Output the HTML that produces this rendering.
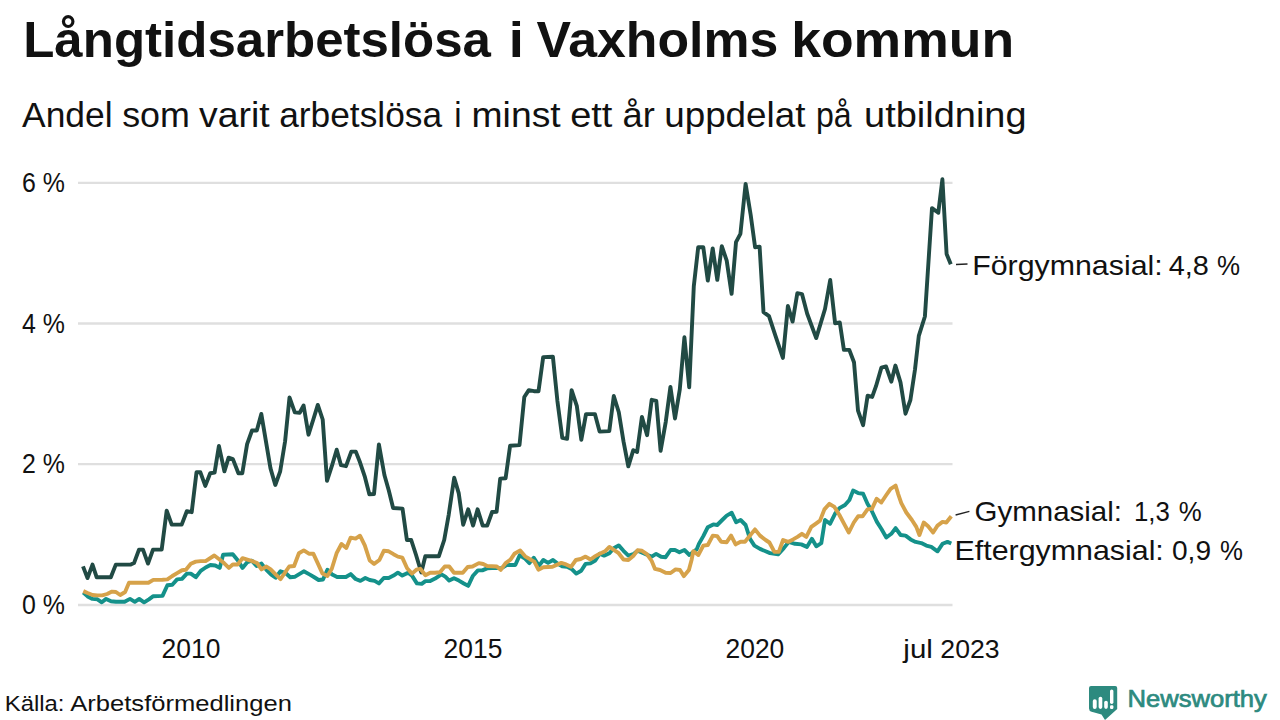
<!DOCTYPE html>
<html><head><meta charset="utf-8">
<style>
html,body{margin:0;padding:0;background:#ffffff;width:1280px;height:720px;overflow:hidden}
svg{display:block}
text{font-family:"Liberation Sans",sans-serif;fill:#111111}
</style></head><body>
<svg width="1280" height="720" viewBox="0 0 1280 720">
<rect width="1280" height="720" fill="#ffffff"/>
<g font-size="49.5" font-weight="bold"><text x="23.21" y="57.0" textLength="467.76" lengthAdjust="spacingAndGlyphs">Långtidsarbetslösa</text><text x="508.7" y="57.0" textLength="15.14" lengthAdjust="spacingAndGlyphs">i</text><text x="536.5" y="57.0" textLength="241.82" lengthAdjust="spacingAndGlyphs">Vaxholms</text><text x="791.16" y="57.0" textLength="222.99" lengthAdjust="spacingAndGlyphs">kommun</text></g>
<g font-size="34.5"><text x="22.0" y="127.2" textLength="90.61" lengthAdjust="spacingAndGlyphs">Andel</text><text x="122.16" y="127.2" textLength="67.71" lengthAdjust="spacingAndGlyphs">som</text><text x="199.0" y="127.2" textLength="70.7" lengthAdjust="spacingAndGlyphs">varit</text><text x="279.18" y="127.2" textLength="162.92" lengthAdjust="spacingAndGlyphs">arbetslösa</text><text x="454.3" y="127.2" textLength="7.29" lengthAdjust="spacingAndGlyphs">i</text><text x="471.54" y="127.2" textLength="89.14" lengthAdjust="spacingAndGlyphs">minst</text><text x="570.2" y="127.2" textLength="42.2" lengthAdjust="spacingAndGlyphs">ett</text><text x="622.55" y="127.2" textLength="32.27" lengthAdjust="spacingAndGlyphs">år</text><text x="664.16" y="127.2" textLength="141.34" lengthAdjust="spacingAndGlyphs">uppdelat</text><text x="815.94" y="127.2" textLength="35.68" lengthAdjust="spacingAndGlyphs">på</text><text x="864.1" y="127.2" textLength="162.47" lengthAdjust="spacingAndGlyphs">utbildning</text></g>
<g stroke="#dfdfdf" stroke-width="2.3">
<line x1="78" y1="182.8" x2="952.5" y2="182.8"/>
<line x1="78" y1="323.5" x2="952.5" y2="323.5"/>
<line x1="78" y1="464.2" x2="952.5" y2="464.2"/>
<line x1="78" y1="605" x2="952.5" y2="605"/>
</g>
<g font-size="27" text-anchor="end">
<text id="y6" x="64.9" y="192.0" textLength="42.9" lengthAdjust="spacingAndGlyphs">6 %</text>
<text id="y4" x="64.9" y="332.7" textLength="42.9" lengthAdjust="spacingAndGlyphs">4 %</text>
<text id="y2" x="64.9" y="473.4" textLength="42.9" lengthAdjust="spacingAndGlyphs">2 %</text>
<text id="y0" x="64.9" y="614.2" textLength="42.9" lengthAdjust="spacingAndGlyphs">0 %</text>
</g>
<g font-size="27" text-anchor="middle">
<text id="x2010" x="191.0" y="658" textLength="58.8" lengthAdjust="spacingAndGlyphs">2010</text>
<text id="x2015" x="473.0" y="658" textLength="58.8" lengthAdjust="spacingAndGlyphs">2015</text>
<text id="x2020" x="754.9000000000001" y="658" textLength="58.8" lengthAdjust="spacingAndGlyphs">2020</text>
<g font-size="26"><text x="903.33" y="658" textLength="29.52" lengthAdjust="spacingAndGlyphs" text-anchor="start">jul</text><text x="940.38" y="658" textLength="59.19" lengthAdjust="spacingAndGlyphs" text-anchor="start">2023</text></g>
</g>
<g fill="none" stroke-linejoin="round" stroke-linecap="butt">
<polyline stroke="#14918a" stroke-width="3.9" points="83.3,592.5 87.6,596.4 92.5,598.9 97.4,599.3 101.8,602.3 106.1,598.9 111.0,601.3 115.9,601.8 124.6,601.8 130.0,598.9 134.8,601.8 139.2,598.9 144.1,602.3 148.9,599.3 153.3,596.2 162.5,595.9 167.4,585.2 172.3,584.7 177.1,579.4 182.0,578.9 186.9,573.6 190.8,573.6 195.8,577.2 200.7,570.9 205.6,567.5 210.4,565.0 215.3,565.5 219.7,567.9 223.1,554.8 232.8,554.3 237.7,560.2 242.5,567.9 247.4,562.1 251.8,560.6 256.6,566.0 261.5,563.6 266.4,569.9 271.2,574.7 275.6,577.7 280.5,571.3 285.3,572.8 290.2,577.2 295.1,576.7 303.8,571.3 309.9,574.6 314.7,577.5 318.6,580.0 323.0,579.5 327.4,569.7 332.2,574.6 337.1,577.0 345.9,577.0 350.7,574.1 355.6,579.0 360.4,580.9 365.3,578.0 369.7,580.0 374.6,580.9 378.9,583.4 383.8,578.0 388.7,578.0 393.5,575.6 397.9,572.7 402.3,575.6 408.1,572.7 412.0,575.6 416.9,583.4 421.7,583.9 425.4,581.1 430.2,581.1 435.1,578.6 441.4,574.3 445.3,576.7 449.2,580.6 454.0,578.2 458.9,580.6 463.8,583.5 468.2,585.9 473.0,575.7 477.9,570.4 482.3,570.4 487.1,568.4 496.8,567.9 501.2,568.4 506.6,565.0 515.3,565.0 519.7,555.3 524.6,558.2 529.4,563.1 533.8,557.7 538.9,565.9 543.3,560.0 548.1,562.9 553.0,560.0 557.9,563.9 562.2,566.3 567.1,566.8 572.0,569.3 576.3,573.6 581.2,570.7 585.6,563.9 590.4,563.4 595.3,560.5 599.7,553.7 604.1,555.6 609.4,553.2 613.8,548.3 618.7,545.4 623.5,550.8 628.4,555.6 633.2,554.2 637.6,550.8 646.9,554.7 651.7,556.6 656.1,553.9 661.1,556.7 665.6,557.2 670.6,550.0 675.0,550.0 679.4,552.2 684.4,550.0 689.4,555.0 696.7,549.4 698.9,543.9 703.3,536.1 707.8,527.2 713.3,524.4 717.2,525.0 722.2,520.0 726.7,515.6 731.7,512.8 736.1,522.2 740.6,520.0 745.6,525.0 750.0,538.9 754.4,545.6 760.0,548.9 770.0,553.1 778.1,554.4 783.8,548.1 788.8,541.9 795.0,543.8 801.3,544.4 806.9,546.9 811.9,538.8 816.3,546.3 821.3,543.1 825.0,520.0 830.0,523.8 835.0,513.8 839.4,508.1 845.0,505.0 849.4,500.0 853.1,490.6 858.1,493.1 863.1,493.8 867.5,503.8 871.3,510.0 876.9,521.9 881.3,528.8 886.3,537.5 891.3,533.8 895.6,528.1 900.6,535.0 905.6,535.6 910.6,539.4 915.6,541.9 921.3,543.1 926.3,545.6 931.3,546.9 937.5,551.3 942.5,543.8 947.5,541.9 951.3,543.5"/>
<polyline stroke="#214a44" stroke-width="3.9" points="83.0,566.4 87.5,578.1 92.5,564.6 96.7,577.3 110.8,577.3 115.8,564.6 130.8,564.6 134.0,563.1 139.0,549.6 143.0,549.6 148.0,563.6 153.0,549.6 161.7,549.6 166.7,510.6 171.7,524.6 181.7,524.6 186.8,511.2 191.7,512.2 196.5,472.3 200.4,472.3 205.3,485.9 210.2,473.3 214.6,472.6 218.9,446.0 224.4,471.3 228.6,457.7 232.9,459.1 238.4,473.3 242.3,473.3 247.1,444.1 252.0,430.5 256.8,430.5 261.3,413.9 270.5,468.4 275.3,485.0 280.2,471.3 285.1,441.2 289.5,397.4 294.8,412.4 299.7,412.7 303.6,405.5 308.5,434.7 313.3,419.5 317.8,404.9 322.7,419.5 327.0,480.8 331.8,466.2 336.7,449.7 341.0,465.2 346.0,466.2 351.3,451.6 355.8,451.6 360.0,462.3 364.9,476.9 369.4,494.4 374.0,494.0 378.9,444.4 384.4,475.0 388.8,490.5 393.1,508.0 402.5,508.6 406.9,540.0 411.2,540.0 415.9,554.5 421.3,572.5 425.3,556.3 438.8,556.3 444.2,540.0 448.7,514.8 454.2,477.7 458.7,493.1 463.2,524.7 468.2,509.3 473.1,525.6 477.6,509.3 482.7,525.6 487.2,525.6 492.1,512.0 496.6,511.7 500.2,478.6 505.6,478.3 510.1,445.7 519.5,445.1 524.3,397.0 528.8,390.2 534.0,391.2 538.5,391.2 543.2,357.1 552.9,356.7 557.4,400.9 562.3,437.9 567.1,438.8 571.6,390.2 576.8,405.8 581.3,439.8 586.0,414.1 594.9,414.1 599.6,431.6 609.3,431.1 613.8,396.0 618.8,412.3 623.5,441.4 628.3,466.4 633.3,450.2 637.1,451.9 641.9,416.9 647.1,435.2 651.7,399.8 656.3,400.8 660.6,450.8 665.8,421.6 670.4,386.9 675.0,418.5 679.8,389.4 684.4,337.3 689.2,387.3 693.8,286.2 698.2,247.3 703.3,247.3 707.8,280.6 712.7,248.4 717.3,279.9 721.8,246.2 726.7,260.6 731.6,293.9 736.0,242.2 740.4,233.9 745.6,183.9 750.7,215.0 755.1,247.3 759.6,246.6 763.5,312.1 769.0,316.1 775.4,335.7 782.9,357.9 787.9,306.0 792.6,321.6 797.3,293.2 802.0,294.1 807.2,313.8 816.2,338.1 825.0,309.0 830.2,280.0 835.1,323.2 839.8,322.5 843.9,349.9 849.3,349.9 854.0,362.2 858.0,410.6 863.1,425.2 867.6,395.7 872.2,396.9 876.0,386.2 881.4,367.6 886.0,366.4 891.3,381.7 895.4,365.6 900.5,382.4 905.5,413.7 910.4,400.0 915.0,369.5 918.8,335.9 924.9,316.5 932.0,208.1 938.3,212.8 942.4,179.3 946.6,254.0 950.8,264.2"/>
<polyline stroke="#d6a24a" stroke-width="3.9" points="83.3,591.1 87.6,593.0 92.5,595.0 97.4,595.4 102.2,595.4 107.1,594.0 112.0,591.6 115.9,592.0 120.2,595.0 125.1,592.0 129.0,582.8 143.1,582.8 148.4,582.8 153.3,579.9 162.5,579.7 167.4,579.4 172.3,576.0 177.1,573.1 182.0,570.2 185.9,569.7 190.8,563.8 195.8,561.6 200.7,561.1 205.6,561.1 214.3,555.5 219.2,559.2 224.0,563.1 228.9,567.9 232.8,564.5 237.7,564.5 242.5,558.2 247.4,559.7 252.3,561.1 257.1,563.1 261.5,569.4 266.4,566.5 270.7,569.4 275.6,574.3 280.5,579.1 284.8,572.8 289.2,566.5 294.1,566.0 298.9,553.3 303.8,550.4 308.9,553.7 313.3,553.7 317.6,562.9 322.5,573.6 327.4,576.1 331.8,568.8 336.6,553.2 341.5,544.0 346.3,547.9 350.7,537.6 355.6,538.6 360.0,535.7 364.8,545.4 369.7,560.5 374.1,563.9 379.4,560.0 383.8,550.8 388.7,551.3 393.5,554.2 397.9,556.6 402.3,557.6 407.1,568.3 412.0,573.6 416.4,569.7 420.3,568.8 425.4,575.2 430.2,572.8 435.1,572.8 439.9,572.3 444.8,566.5 449.2,566.5 454.0,572.8 462.8,572.8 467.7,567.0 472.5,566.5 478.9,563.1 483.2,564.0 487.1,566.0 496.8,566.5 500.7,569.9 505.6,563.1 510.5,559.7 514.4,553.8 520.2,550.4 525.1,556.3 529.9,559.2 534.3,561.6 538.4,569.7 543.3,567.3 552.5,566.8 561.3,562.9 566.1,564.4 571.0,566.8 575.9,560.0 580.7,559.0 585.6,556.6 590.4,559.5 595.3,556.1 599.7,553.7 605.0,551.3 609.4,546.9 613.8,549.8 618.7,553.2 623.5,559.5 628.4,560.0 633.2,556.1 637.6,550.3 642.0,550.8 646.9,554.2 651.7,561.0 655.0,568.9 660.0,570.0 665.6,572.8 670.6,573.0 675.6,569.4 680.0,570.0 683.9,576.1 688.9,570.0 691.7,559.4 693.3,551.1 698.3,555.0 703.3,545.6 707.8,545.0 712.8,535.6 717.2,536.1 721.1,541.7 726.7,542.2 731.1,535.6 735.6,544.4 740.6,541.7 745.0,541.7 750.0,535.6 755.0,529.4 760.0,535.6 765.6,540.0 769.4,542.5 774.4,551.9 778.8,551.9 783.1,540.0 788.1,541.9 793.1,539.4 797.5,536.9 801.9,533.8 806.3,536.9 811.3,526.9 815.6,523.8 820.0,520.6 824.4,509.4 829.4,503.8 834.4,506.9 839.4,515.0 844.4,524.4 848.8,532.5 853.8,522.5 858.1,516.3 862.5,516.3 867.5,509.4 871.9,508.8 876.6,498.8 881.3,502.5 886.3,495.0 890.6,488.8 895.6,485.6 898.1,493.8 901.3,503.1 906.3,512.5 911.9,520.0 916.3,526.9 919.4,535.0 923.8,522.5 928.1,526.3 933.1,532.5 937.5,525.6 942.5,521.9 946.3,522.5 951.3,516.3"/>
</g>
<g stroke="#222" stroke-width="1.3">
<line x1="956" y1="264.5" x2="967.5" y2="264"/>
<line x1="955.6" y1="515" x2="969.4" y2="511.3"/>
</g>
<g font-size="28">
<text x="972.23" y="274.6" textLength="190.45" lengthAdjust="spacingAndGlyphs">Förgymnasial:</text><text x="1168.77" y="274.6" textLength="40.1" lengthAdjust="spacingAndGlyphs">4,8</text><text x="1217.07" y="274.6" textLength="23.07" lengthAdjust="spacingAndGlyphs">%</text>
<text x="974.55" y="521.2" textLength="147.41" lengthAdjust="spacingAndGlyphs">Gymnasial:</text><text x="1133.96" y="521.2" textLength="35.91" lengthAdjust="spacingAndGlyphs">1,3</text><text x="1178.68" y="521.2" textLength="22.96" lengthAdjust="spacingAndGlyphs">%</text>
<text x="954.53" y="559.6" textLength="209.3" lengthAdjust="spacingAndGlyphs">Eftergymnasial:</text><text x="1172.0" y="559.6" textLength="39.04" lengthAdjust="spacingAndGlyphs">0,9</text><text x="1219.88" y="559.6" textLength="22.96" lengthAdjust="spacingAndGlyphs">%</text>
</g>
<g font-size="22.5"><text x="4.78" y="711.2" textLength="59.76" lengthAdjust="spacingAndGlyphs">Källa:</text><text x="70.3" y="711.2" textLength="221.56" lengthAdjust="spacingAndGlyphs">Arbetsförmedlingen</text></g>
<g fill="#2d8a7f">
<path d="M1091,686 H1115.2 Q1117.2,686 1117.2,688 V709 L1105,720 L1101.5,714.4 L1091.6,711.8 Q1089,711 1089,708.5 V688 Q1089,686 1091,686 Z"/>
</g>
<g fill="#ffffff">
<rect x="1092.8" y="699.2" width="3.9" height="9.7" rx="1.9"/>
<rect x="1098.6" y="696.7" width="3.7" height="12.2" rx="1.8"/>
<rect x="1104.2" y="700.8" width="3.6" height="8.1" rx="1.8"/>
<rect x="1110" y="689.4" width="3.4" height="14.5" rx="1.7"/>
<rect x="1110" y="705.3" width="3.4" height="3.6" rx="1.2"/>
</g>
<text id="nw" x="1127.5" y="706.7" font-size="24" style="fill:#2d8a7f;stroke:#2d8a7f;stroke-width:0.7" textLength="139.4" lengthAdjust="spacingAndGlyphs">Newsworthy</text>
</svg>
</body></html>
